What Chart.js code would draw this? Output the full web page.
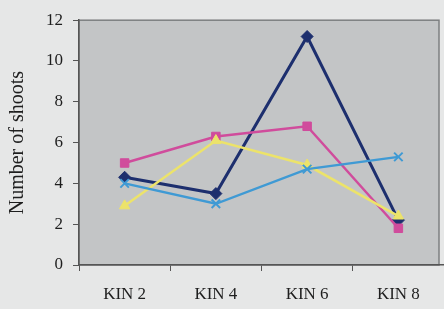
<!DOCTYPE html>
<html>
<head>
<meta charset="utf-8">
<script src="https://cdn.jsdelivr.net/npm/chart.js@4.4.0/dist/chart.umd.min.js"></script>
<style>
  html, body { margin: 0; padding: 0; background: #e6e7e7; }
  #wrap { width: 444px; height: 309px; }
</style>
</head>
<body>
<div id="wrap"><canvas id="myChart" width="444" height="309"></canvas></div>
<script>
// data
const categories = ['KIN 2', 'KIN 4', 'KIN 6', 'KIN 8'];
const navySeries = [4.3, 3.5, 11.2, 2.2];
const pinkSeries = [5.0, 6.3, 6.8, 1.8];
const yellowSeries = [2.9, 6.1, 4.9, 2.4];
const cyanSeries = [4.0, 3.0, 4.7, 5.3];
const yTicks = [0, 2, 4, 6, 8, 10, 12];

const serif = "'Liberation Serif', 'DejaVu Serif', serif";

// grey fill behind the plot + frame (photo is cut just past the right edge)
const plotBg = {
    id: 'plotBg',
    beforeDraw(chart) {
        const a = chart.chartArea;
        const c = chart.ctx;
        const r = a.right - 5;
        c.save();
        c.fillStyle = '#c3c5c6';
        c.fillRect(a.left, a.top, r - a.left, a.bottom - a.top);
        c.strokeStyle = '#7d7f80';
        c.lineWidth = 1.5;
        c.strokeRect(a.left, a.top, r - a.left, a.bottom - a.top);
        c.restore();
    }
};

function mkSet(data, color, style, w) {
    return {
        data: data,
        borderColor: color,
        backgroundColor: color,
        pointBorderColor: color,
        pointBackgroundColor: color,
        pointStyle: style,
        pointRadius: 6,
        pointBorderWidth: style === 'crossRot' ? 2 : 1,
        borderWidth: w,
        tension: 0
    };
}

const ctx = document.getElementById('myChart').getContext('2d');
new Chart(ctx, {
    type: 'line',
    data: {
        labels: categories,
        datasets: [
            mkSet(cyanSeries, '#3f9ad4', 'crossRot', 2.5),
            mkSet(yellowSeries, '#ece36a', 'triangle', 2.5),
            mkSet(pinkSeries, '#d04c9c', 'rect', 2.5),
            mkSet(navySeries, '#1d2f6e', 'rectRot', 3)
        ]
    },
    plugins: [plotBg],
    options: {
        responsive: false,
        animation: false,
        layout: { autoPadding: false, padding: { top: 18, right: 0, left: 0, bottom: 0 } },
        plugins: { legend: { display: false }, tooltip: { enabled: false } },
        scales: {
            x: {
                offset: true,
                grid: {
                    offset: true,
                    drawOnChartArea: false,
                    tickLength: 6,
                    color: '#555'
                },
                border: { color: '#555', width: 1.5 },
                ticks: {
                    color: '#1e1e1e',
                    font: { family: serif, size: 17 },
                    padding: 13
                },
                afterFit: s => { s.height = 44; }
            },
            y: {
                min: 0,
                max: 12,
                afterBuildTicks: s => { s.ticks = yTicks.map(v => ({ value: v })); },
                grid: {
                    drawOnChartArea: false,
                    tickLength: 6,
                    color: '#555'
                },
                border: { color: '#555', width: 1.5 },
                ticks: {
                    color: '#1e1e1e',
                    font: { family: serif, size: 17 },
                    padding: 10
                },
                title: {
                    display: true,
                    text: 'Number of shoots',
                    color: '#1e1e1e',
                    font: { family: serif, size: 20 },
                    padding: { top: 6, bottom: 0 }
                },
                afterFit: s => { s.width = 79; }
            }
        }
    }
});
</script>
</body>
</html>
